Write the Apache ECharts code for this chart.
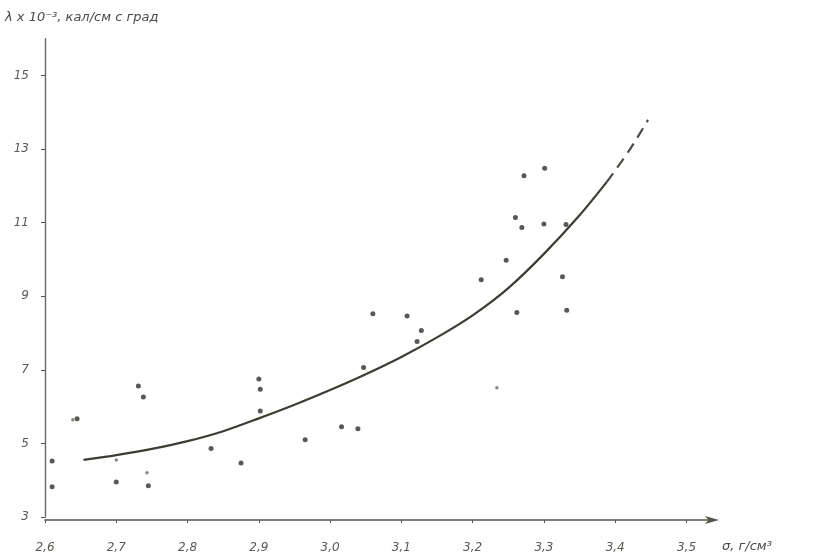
<!DOCTYPE html>
<html>
<head>
<meta charset="utf-8">
<title>Теплопроводность в зависимости от плотности</title>
<script src="https://cdn.jsdelivr.net/npm/echarts@6/dist/echarts.min.js"></script>
<style>
  html, body { margin: 0; padding: 0; background: #ffffff; }
  #chart { width: 817px; height: 558px; }
</style>
</head>
<body>
<div id="chart"></div>
<script>
// Density σ, g/cm³ — tick values along the horizontal axis
const xTicks = [2.6, 2.7, 2.8, 2.9, 3.0, 3.1, 3.2, 3.3, 3.4, 3.5];
// Thermal conductivity λ·10⁻³, cal/(cm·s·deg) — tick values on the vertical axis
const yTicks = [3, 5, 7, 9, 11, 13, 15];

// Measured points [σ, λ]
const measured = [
  [2.61, 4.52], [2.61, 3.82], [2.645, 5.67],
  [2.70, 3.95], [2.731, 6.56], [2.738, 6.26], [2.745, 3.85],
  [2.833, 4.86], [2.875, 4.47],
  [2.900, 6.75], [2.902, 6.47], [2.902, 5.88],
  [2.965, 5.10], [3.016, 5.45], [3.039, 5.40], [3.047, 7.06],
  [3.060, 8.52], [3.108, 8.46], [3.128, 8.07], [3.122, 7.77],
  [3.212, 9.45], [3.247, 9.98], [3.260, 11.14], [3.269, 10.87],
  [3.272, 12.27], [3.301, 12.48], [3.300, 10.96], [3.331, 10.95],
  [3.326, 9.53], [3.262, 8.56], [3.332, 8.62]
];
// Weaker, smaller marks
const measuredFaint = [
  [2.639, 5.64], [2.70, 4.55], [2.743, 4.20], [3.234, 6.51]
];

// Averaging curve (solid part) and its extrapolated continuation (dashed)
const curveSolid = [
  [2.654, 4.55], [2.70, 4.68], [2.75, 4.85], [2.80, 5.06],
  [2.85, 5.33], [2.90, 5.68], [2.95, 6.05], [3.00, 6.45],
  [3.05, 6.88], [3.10, 7.35], [3.15, 7.88], [3.20, 8.48],
  [3.25, 9.22], [3.30, 10.15], [3.35, 11.20], [3.388, 12.10]
];
const curveDashed = [
  [3.388, 12.10], [3.420, 12.97], [3.446, 13.79]
];

const fmtComma = v => v.toFixed(1).replace('.', ',');

const labelFont = {
  color: '#5a5a55',
  fontFamily: 'DejaVu Sans',
  fontStyle: 'italic',
  fontSize: 12
};

const chart = echarts.init(document.getElementById('chart'), null, { renderer: 'canvas' });

chart.setOption({
  backgroundColor: '#ffffff',
  animation: false,
  grid: { left: 45, top: 38.6, width: 670, height: 478.4 },
  xAxis: {
    type: 'value',
    min: 2.6,
    max: 3.54,
    offset: 3,
    splitLine: { show: false },
    axisLine: {
      show: true,
      lineStyle: { color: '#55554f', width: 1.6 },
      symbol: ['none', 'arrow'],
      symbolSize: [6, 14],
      symbolOffset: [0, 4]
    },
    axisTick: {
      show: true,
      length: 3,
      customValues: xTicks,
      lineStyle: { color: '#55554f' }
    },
    axisLabel: {
      ...labelFont,
      margin: 22,
      customValues: xTicks,
      formatter: v => fmtComma(v)
    }
  },
  yAxis: {
    type: 'value',
    min: 3,
    max: 16,
    splitLine: { show: false },
    axisLine: {
      show: true,
      lineStyle: { color: '#6a6a64', width: 1.4 }
    },
    axisTick: {
      show: true,
      length: 4,
      customValues: yTicks,
      lineStyle: { color: '#55554f' }
    },
    axisLabel: {
      ...labelFont,
      margin: 16,
      customValues: yTicks,
      formatter: v => String(v)
    }
  },
  graphic: [
    {
      type: 'text',
      left: 5,
      top: 11,
      style: {
        text: 'λ x 10⁻³, кал/см с град',
        fill: '#4a4a45',
        font: 'italic 13px "DejaVu Sans"'
      }
    },
    {
      type: 'text',
      left: 722,
      top: 540,
      style: {
        text: 'σ, г/см³',
        fill: '#4a4a45',
        font: 'italic 13px "DejaVu Sans"'
      }
    }
  ],
  series: [
    {
      name: 'curve',
      type: 'line',
      data: curveSolid,
      smooth: 0.3,
      symbol: 'none',
      lineStyle: { color: '#3c3d35', width: 2.2 },
      z: 2
    },
    {
      name: 'curve-extrapolated',
      type: 'line',
      data: curveDashed,
      smooth: 0.3,
      symbol: 'none',
      lineStyle: { color: '#4a4b44', width: 2.2, type: [11, 7] },
      z: 2
    },
    {
      name: 'measured',
      type: 'scatter',
      data: measured,
      symbol: 'circle',
      symbolSize: 5,
      itemStyle: { color: '#2e2e2a' },
      z: 3
    },
    {
      name: 'measured-faint',
      type: 'scatter',
      data: measuredFaint,
      symbol: 'circle',
      symbolSize: 3.5,
      itemStyle: { color: '#6a6a64' },
      z: 3
    }
  ]
});
</script>
</body>
</html>
